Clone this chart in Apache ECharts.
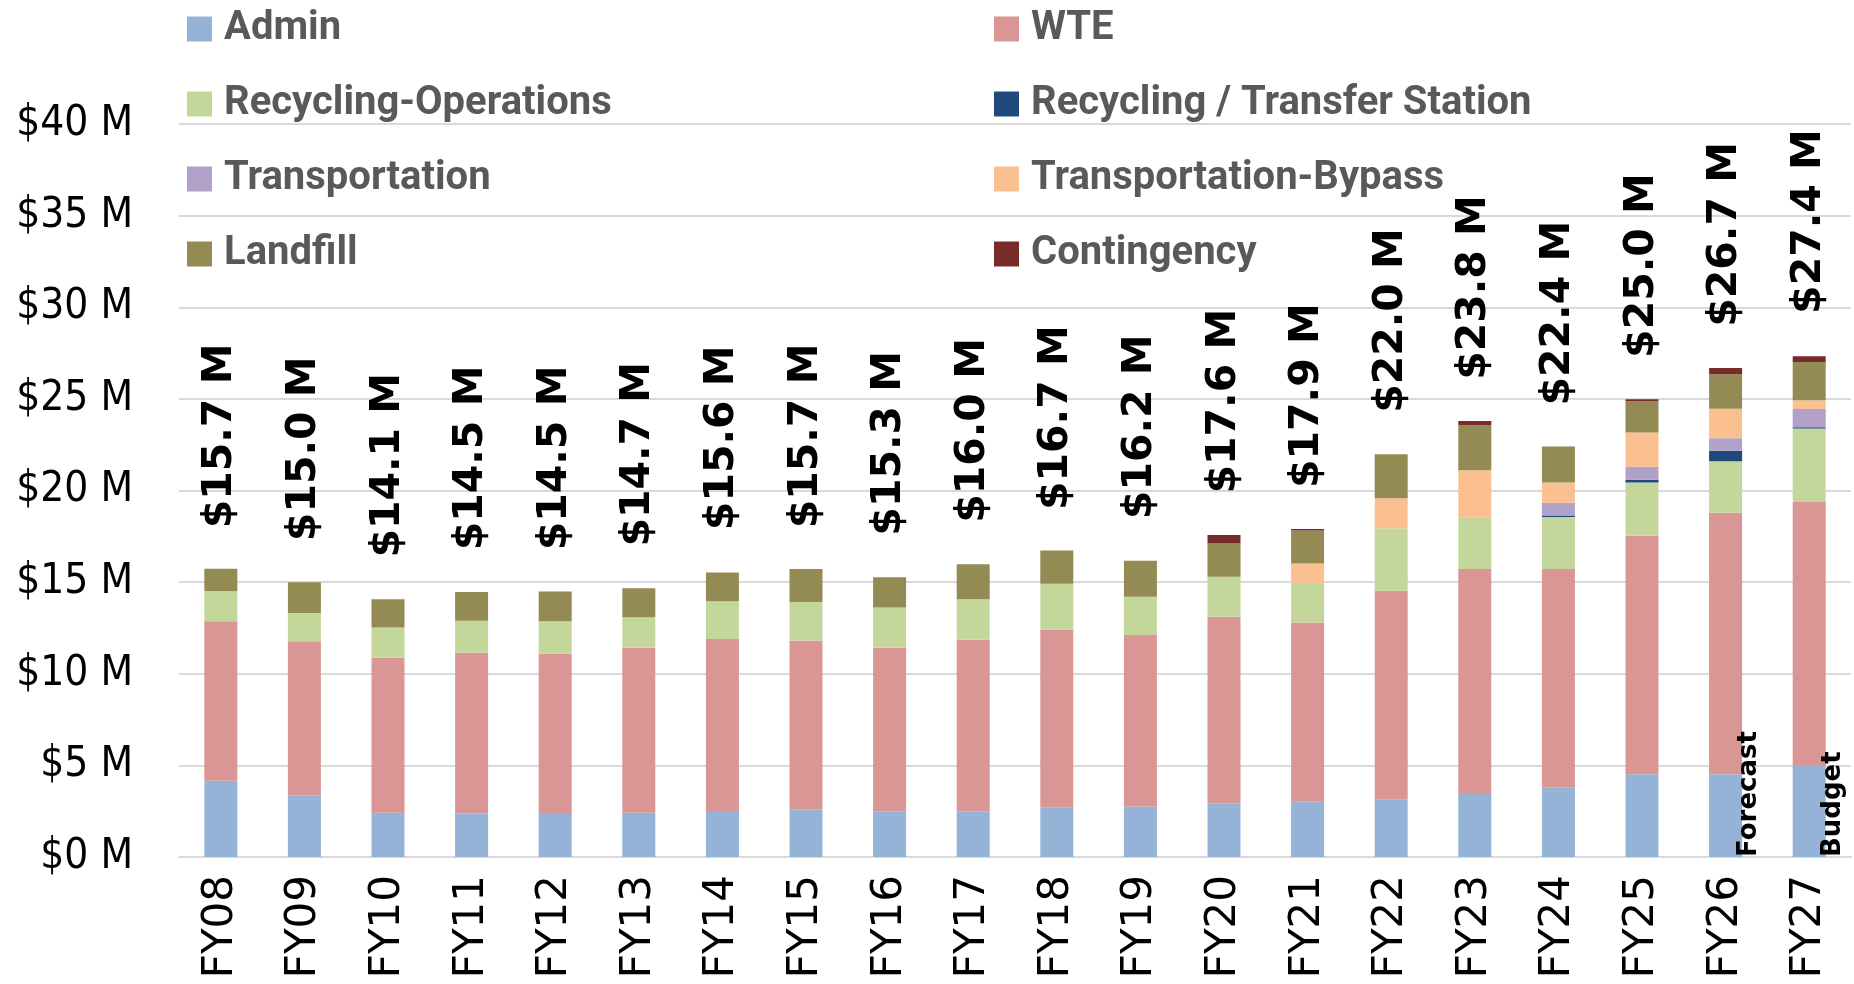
<!DOCTYPE html>
<html>
<head>
<meta charset="utf-8">
<script src="https://cdn.jsdelivr.net/npm/echarts@6/dist/echarts.min.js"></script>
<style>
html, body { margin: 0; padding: 0; background: #fff; }
#chart { width: 1854px; height: 984px; }
</style>
</head>
<body>
<div id="chart"></div>
<script>
var years = ['FY08', 'FY09', 'FY10', 'FY11', 'FY12', 'FY13', 'FY14', 'FY15', 'FY16', 'FY17',
    'FY18', 'FY19', 'FY20', 'FY21', 'FY22', 'FY23', 'FY24', 'FY25', 'FY26', 'FY27'];

// $ millions
var admin = [4.16, 3.37, 2.42, 2.38, 2.40, 2.42, 2.51, 2.60, 2.49, 2.49,
    2.71, 2.76, 2.93, 3.04, 3.15, 3.44, 3.80, 4.51, 4.51, 5.02];
var wte = [8.71, 8.41, 8.45, 8.77, 8.69, 9.00, 9.38, 9.22, 8.93, 9.36,
    9.70, 9.36, 10.18, 9.75, 11.38, 12.27, 11.91, 13.02, 14.28, 14.35];
var recyclingOps = [1.64, 1.53, 1.66, 1.74, 1.78, 1.67, 2.06, 2.09, 2.20, 2.22,
    2.50, 2.08, 2.18, 2.18, 3.41, 2.80, 2.84, 2.90, 2.80, 4.02];
var transferStation = [0, 0, 0, 0, 0, 0, 0, 0, 0, 0,
    0, 0, 0, 0, 0, 0, 0.09, 0.15, 0.58, 0.06];
var transportation = [0, 0, 0, 0, 0, 0, 0, 0, 0, 0,
    0, 0, 0, 0, 0, 0, 0.69, 0.71, 0.68, 1.00];
var bypass = [0, 0, 0, 0, 0, 0, 0, 0, 0, 0,
    0, 0, 0, 1.05, 1.64, 2.60, 1.10, 1.87, 1.61, 0.47];
var landfill = [1.22, 1.69, 1.53, 1.57, 1.62, 1.57, 1.58, 1.80, 1.64, 1.91,
    1.82, 1.97, 1.84, 1.80, 2.40, 2.45, 1.97, 1.72, 1.88, 2.09];
var contingency = [0, 0, 0, 0, 0, 0, 0, 0, 0, 0,
    0, 0, 0.44, 0.08, 0, 0.23, 0, 0.10, 0.34, 0.31];
var totals = [15.7, 15.0, 14.1, 14.5, 14.5, 14.7, 15.6, 15.7, 15.3, 16.0,
    16.7, 16.2, 17.6, 17.9, 22.0, 23.8, 22.4, 25.0, 26.7, 27.4];
var notes = ['', '', '', '', '', '', '', '', '', '',
    '', '', '', '', '', '', '', '', 'Forecast', 'Budget'];

var legendLeft = ['Admin', 'Recycling-Operations', 'Transportation', 'Landfill'];
var legendRight = ['WTE', 'Recycling / Transfer Station', 'Transportation-Bypass', 'Contingency'];

var legendText = {
    fontFamily: 'Roboto',
    fontWeight: 'bold',
    fontSize: 40,
    lineHeight: 40,
    color: '#595959',
    padding: [0, 0, 0, 7]
};

function bar(name, data, color) {
    return {
        name: name,
        type: 'bar',
        stack: 'total',
        barWidth: 33,
        itemStyle: { color: color },
        data: data
    };
}

var adminData = admin.map(function (v, i) {
    if (!notes[i]) return v;
    return {
        value: v,
        label: {
            show: true,
            formatter: notes[i],
            position: ['122%', '100%'],
            rotate: 90,
            align: 'left',
            verticalAlign: 'middle',
            fontFamily: 'DejaVu Sans',
            fontWeight: 'bold',
            fontSize: 26,
            color: '#000'
        }
    };
});

function legend(names, left) {
    return {
        data: names,
        orient: 'vertical',
        left: left,
        top: 4,
        icon: 'rect',
        itemWidth: 25,
        itemHeight: 25,
        itemGap: 35,
        selectedMode: false,
        textStyle: legendText
    };
}

var option = {
    animation: false,
    backgroundColor: '#fff',
    legend: [legend(legendLeft, 182), legend(legendRight, 989)],
    grid: {
        left: 179,
        right: 3,
        top: 124,
        bottom: 127
    },
    xAxis: {
        type: 'category',
        data: years,
        axisLine: { lineStyle: { color: '#d9d9d9', width: 2 } },
        axisTick: { show: false },
        axisLabel: {
            rotate: 90,
            margin: 18,
            fontFamily: 'DejaVu Sans',
            fontSize: 42,
            color: '#000'
        }
    },
    yAxis: {
        type: 'value',
        min: 0,
        max: 40,
        interval: 5,
        axisLine: { show: false },
        axisTick: { show: false },
        splitLine: { lineStyle: { color: '#d9d9d9', width: 2 } },
        axisLabel: {
            margin: 46,
            fontFamily: "'Liberation Sans Narrow', 'DejaVu Sans Condensed', 'Noto Sans'",
            fontSize: 42,
            color: '#000',
            formatter: '${value} M'
        }
    },
    series: [
        bar('Admin', adminData, '#95b3d7'),
        bar('WTE', wte, '#da9694'),
        bar('Recycling-Operations', recyclingOps, '#c4d79b'),
        bar('Recycling / Transfer Station', transferStation, '#1f497d'),
        bar('Transportation', transportation, '#b1a0c7'),
        bar('Transportation-Bypass', bypass, '#fac090'),
        bar('Landfill', landfill, '#948a54'),
        bar('Contingency', contingency, '#772c2a'),
        {
            name: 'Total',
            type: 'line',
            data: totals,
            symbol: 'circle',
            symbolSize: 2,
            itemStyle: { color: 'transparent' },
            lineStyle: { opacity: 0 },
            z: 5,
            label: {
                show: true,
                position: 'top',
                distance: 40,
                rotate: 90,
                align: 'left',
                verticalAlign: 'middle',
                fontFamily: 'DejaVu Sans',
                fontWeight: 'bold',
                fontSize: 41,
                color: '#000',
                formatter: function (p) {
                    return '$' + p.value.toFixed(1) + ' M';
                }
            }
        }
    ]
};

var chart = echarts.init(document.getElementById('chart'));
chart.setOption(option);
</script>
</body>
</html>
